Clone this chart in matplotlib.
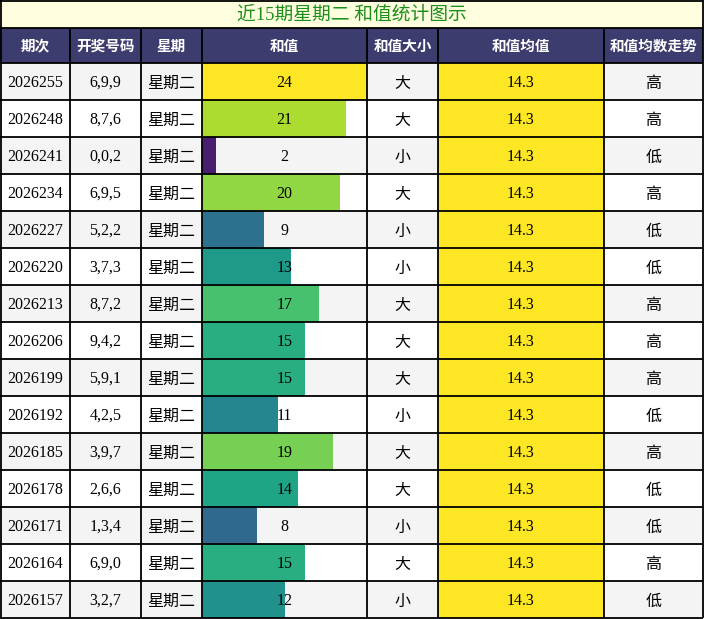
import numpy as np
import matplotlib.pyplot as plt
from matplotlib import colors

# table data
periods = ["2026255", "2026248", "2026241", "2026234", "2026227", "2026220", "2026213",
           "2026206", "2026199", "2026192", "2026185", "2026178", "2026171", "2026164", "2026157"]
numbers = ["6,9,9", "8,7,6", "0,0,2", "6,9,5", "5,2,2", "3,7,3", "8,7,2",
           "9,4,2", "5,9,1", "4,2,5", "3,9,7", "2,6,6", "1,3,4", "6,9,0", "3,2,7"]
weekday = ["星期二"] * 15
sums = [24, 21, 2, 20, 9, 13, 17, 15, 15, 11, 19, 14, 8, 15, 12]
size_lbl = ["大", "大", "小", "大", "小", "小", "大", "大", "大", "小", "大", "大", "小", "大", "小"]
avg_vals = [14.3] * 15
trend = ["高", "高", "低", "高", "低", "低", "高", "高", "高", "低", "高", "低", "低", "高", "低"]

headers = ["期次", "开奖号码", "星期", "和值", "和值大小", "和值均值", "和值均数走势"]
title = "近15期星期二 和值统计图示"

# layout in pixels
W, H = 704, 619
col_x = [0, 70, 141, 202, 367, 438, 604, 703]
TITLE_H = 28
HEAD_H = 35.3
ROW_H = 37.0
top0 = TITLE_H + HEAD_H

FONT = ["Liberation Serif", "Noto Sans CJK SC"]
CJK = ["Noto Sans CJK SC", "DejaVu Sans"]

fig = plt.figure(figsize=(W / 100, H / 100), dpi=100)
ax = fig.add_axes([0, 0, 1, 1])
ax.set_xlim(0, W)
ax.set_ylim(H, 0)
ax.axis("off")

# title
ax.add_patch(plt.Rectangle((0, 0), W - 1, TITLE_H, facecolor="#ffffe0", edgecolor="none"))
ax.text(W / 2, TITLE_H / 2 + 1, title, ha="center", va="center", fontsize=13.5,
        color="#1a8f1a", family=FONT)

# header
ax.add_patch(plt.Rectangle((0, TITLE_H), W - 1, HEAD_H, facecolor="#3c3c6e", edgecolor="none"))
for j, h in enumerate(headers):
    cx = (col_x[j] + col_x[j + 1]) / 2
    ax.text(cx, TITLE_H + HEAD_H / 2, h, ha="center", va="center", fontsize=10.5,
            color="white", fontweight="bold", family=CJK)

# rows
n = len(periods)
norm = colors.Normalize(vmin=0, vmax=max(sums))
cmap = plt.colormaps["viridis"]
sum_w = col_x[4] - col_x[3]
row_y = [top0 + i * ROW_H for i in range(n)]

for i in range(n):
    bg = "#f4f4f4" if i % 2 == 0 else "white"
    ax.add_patch(plt.Rectangle((0, row_y[i]), W - 1, ROW_H, facecolor=bg, edgecolor="none"))

# sum bars
bar_len = [s / max(sums) * sum_w for s in sums]
ax.barh([y + ROW_H / 2 for y in row_y], bar_len, height=ROW_H, left=col_x[3],
        color=[cmap(norm(s)) for s in sums], edgecolor="none")

# avg column
ax.barh([y + ROW_H / 2 for y in row_y], [col_x[6] - col_x[5]] * n, height=ROW_H,
        left=col_x[5], color="#fde725", edgecolor="none")

for i in range(n):
    cy = row_y[i] + ROW_H / 2
    cells = [periods[i], numbers[i], weekday[i], str(sums[i]), size_lbl[i],
             f"{avg_vals[i]:.1f}", trend[i]]
    for j, t in enumerate(cells):
        cx = (col_x[j] + col_x[j + 1]) / 2
        if j in (2, 4, 6):
            ax.text(cx, cy + 1.8, t, ha="center", va="center", fontsize=11.5,
                    color="black", family=CJK)
        else:
            ax.text(cx, cy + 0.8, t, ha="center", va="center", fontsize=11.5,
                    color="black", family=FONT)

# grid lines
lw = 1.3
bottom = top0 + n * ROW_H
for y in [0.5, TITLE_H, top0] + [top0 + (i + 1) * ROW_H for i in range(n)]:
    ax.plot([0, col_x[-1]], [min(y, H - 0.7)] * 2, color="black", lw=lw, solid_capstyle="butt")
for x in [0.6] + col_x[1:-1] + [col_x[-1]]:
    ax.plot([x, x], [TITLE_H, bottom], color="black", lw=lw, solid_capstyle="butt")
ax.plot([0.6, 0.6], [0, TITLE_H], color="black", lw=lw)
ax.plot([col_x[-1]] * 2, [0, TITLE_H], color="black", lw=lw)

fig.savefig("out.png", dpi=100)
